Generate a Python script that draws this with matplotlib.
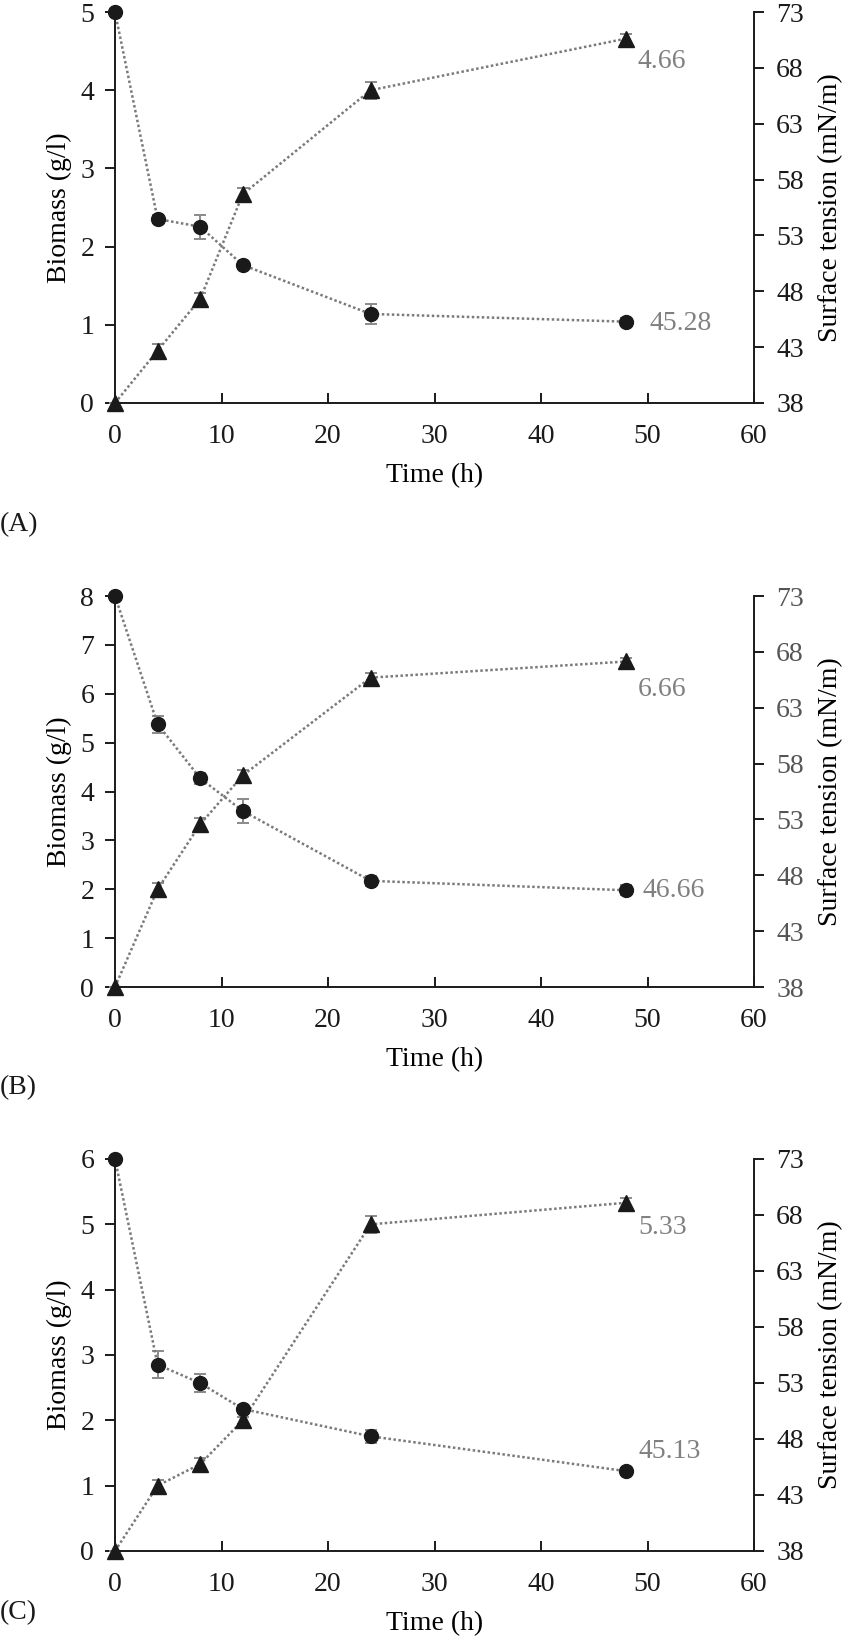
import matplotlib
matplotlib.use("Agg")
import matplotlib.pyplot as plt

plt.rcParams.update({
    "font.family": ["Liberation Serif", "DejaVu Serif"],
    "font.size": 20,
    "axes.linewidth": 1.4,
    "text.color": "#1a1a1a",
    "axes.edgecolor": "#1a1a1a",
    "xtick.color": "#1a1a1a",
    "ytick.color": "#1a1a1a",
})

TIME = [0, 4, 8, 12, 24, 48]

# panel A
BIO_A = [0, 0.67, 1.33, 2.67, 4.00, 4.66]
BIO_ERR_A = [0, 0.08, 0.08, 0.08, 0.11, 0.06]
ST_A = [73, 54.47, 53.78, 50.35, 45.97, 45.28]
ST_ERR_A = [0, 0.35, 1.08, 0.2, 0.9, 0.3]

# panel B
BIO_B = [0, 2.00, 3.33, 4.33, 6.33, 6.66]
BIO_ERR_B = [0, 0.12, 0.12, 0.12, 0.10, 0.08]
ST_B = [73, 61.54, 56.68, 53.76, 47.50, 46.66]
ST_ERR_B = [0, 0.76, 0.52, 1.05, 0.48, 0.45]

# panel C
BIO_C = [0, 1.00, 1.33, 2.00, 5.00, 5.33]
BIO_ERR_C = [0, 0.08, 0.10, 0.05, 0.13, 0.08]
ST_C = [73, 54.64, 52.99, 50.68, 48.24, 45.13]
ST_ERR_C = [0, 1.19, 0.83, 0.4, 0.56, 0.3]

BIO_MAX = [5, 8, 6]
PANEL_TAGS = ["(A)", "(B)", "(C)"]
ST_TICKS = [38, 43, 48, 53, 58, 63, 68, 73]
X_TICKS = [0, 10, 20, 30, 40, 50, 60]

LINE_GREY = "#7a7a7a"
ERR_GREY = "#8a8a8a"
LABEL_GREY = "#808080"
MARK = "#1a1a1a"

W, H = 846, 1639
fig = plt.figure(figsize=(W / 100, H / 100), dpi=100)

# axes boxes in pixels (top, bottom)
boxes = [(12, 403), (596, 987), (1159, 1551)]
tag_y = [525, 1088, 1613]
left_px, right_px = 115, 754

# offsets (points) for the end-value labels: (triangle, circle)
label_offsets = [((8, -16.5), (17, -1.5)),
                 ((8, -20), (11.5, 0)),
                 ((8.6, -18), (8.6, 14.4))]

panels = [(BIO_A, BIO_ERR_A, ST_A, ST_ERR_A),
          (BIO_B, BIO_ERR_B, ST_B, ST_ERR_B),
          (BIO_C, BIO_ERR_C, ST_C, ST_ERR_C)]

for i, (bio, bio_err, st, st_err) in enumerate(panels):
    top, bot = boxes[i]
    ax = fig.add_axes([left_px / W, 1 - bot / H, (right_px - left_px) / W, (bot - top) / H])
    ax2 = ax.twinx()

    # biomass (triangles, left axis)
    ax.errorbar(TIME, bio, yerr=bio_err, fmt="none", ecolor=ERR_GREY,
                elinewidth=1.4, capsize=4.5, capthick=1.4, zorder=2, clip_on=False)
    ax.plot(TIME, bio, linestyle=(0, (1, 1)), lw=1.8, color=LINE_GREY, marker="^",
            ms=12, mfc=MARK, mec=MARK, zorder=3, clip_on=False)

    # surface tension (circles, right axis)
    ax2.errorbar(TIME, st, yerr=st_err, fmt="none", ecolor=ERR_GREY,
                 elinewidth=1.4, capsize=4.5, capthick=1.4, zorder=2, clip_on=False)
    ax2.plot(TIME, st, linestyle=(0, (1, 1)), lw=1.8, color=LINE_GREY, marker="o",
             ms=10, mfc=MARK, mec=MARK, zorder=3, clip_on=False)

    ax.set_xlim(0, 60)
    ax.set_ylim(0, BIO_MAX[i])
    ax2.set_ylim(38, 73)
    ax.set_xticks(X_TICKS)
    ax.set_yticks(range(0, BIO_MAX[i] + 1))
    ax2.set_yticks(ST_TICKS)

    for s in ("top", "right"):
        ax.spines[s].set_visible(False)
    for s in ("top", "left", "bottom"):
        ax2.spines[s].set_visible(False)

    ax.tick_params(axis="x", direction="in", length=7, width=1.4, pad=15)
    ax.tick_params(axis="y", direction="out", length=7, width=1.4, pad=8)
    ax2.tick_params(axis="y", direction="out", length=7, width=1.4, pad=9)
    if i == 1:
        ax2.tick_params(axis="y", labelcolor="#555555")

    ax.set_xlabel("Time (h)", labelpad=10)
    ax.set_ylabel("Biomass (g/l)", labelpad=6)
    ax2.set_ylabel("Surface tension (mN/m)", labelpad=10)

    (tdx, tdy), (cdx, cdy) = label_offsets[i]
    ax.annotate(f"{bio[-1]:.2f}", xy=(TIME[-1], bio[-1]), xytext=(tdx, tdy),
                textcoords="offset points", ha="left", va="center", color=LABEL_GREY)
    ax2.annotate(f"{st[-1]:.2f}", xy=(TIME[-1], st[-1]), xytext=(cdx, cdy),
                 textcoords="offset points", ha="left", va="center", color=LABEL_GREY)

    fig.text(0.0, 1 - tag_y[i] / H, PANEL_TAGS[i], ha="left", va="center")

fig.savefig("out.png", dpi=100)
